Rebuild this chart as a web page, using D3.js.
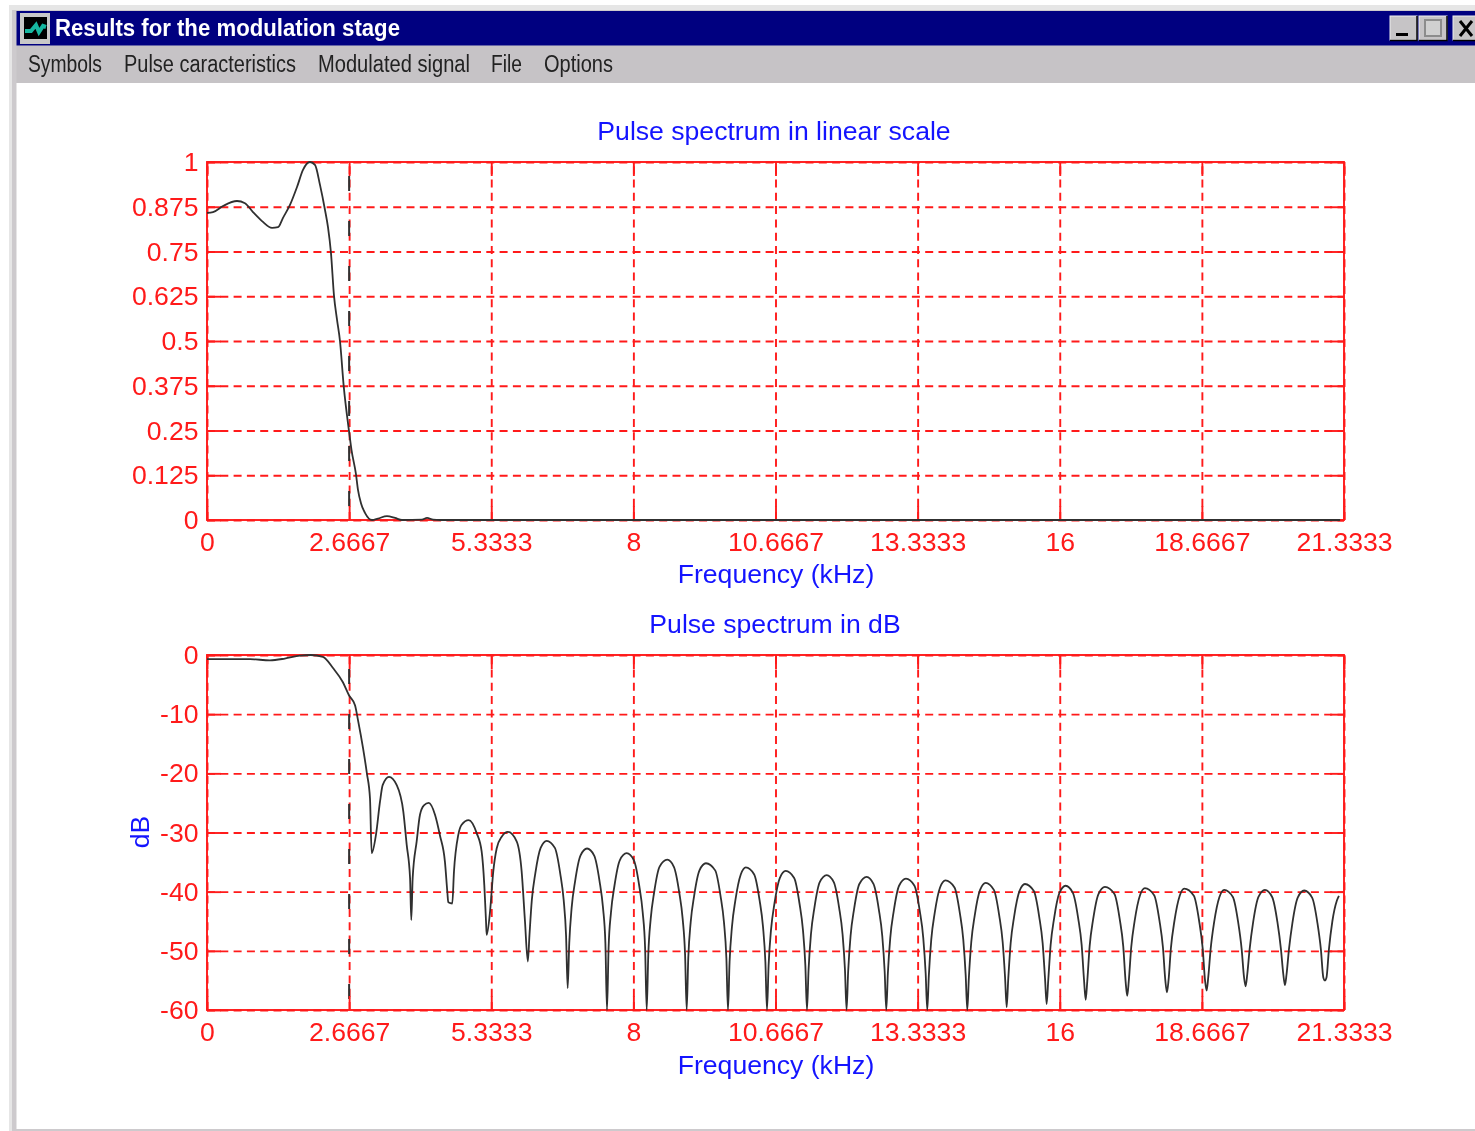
<!DOCTYPE html>
<html><head><meta charset="utf-8">
<script src="https://cdn.jsdelivr.net/npm/d3@7"></script>
<style>
html,body{margin:0;padding:0;background:#fff;overflow:hidden}
svg{display:block;filter:blur(0.5px)}
text{font-family:"Liberation Sans",Arial,sans-serif}
</style></head><body><svg id="c" width="1475" height="1131"></svg>
<script>
const windowTitle = "Results for the modulation stage";
const menuItems = ["Symbols","Pulse caracteristics","Modulated signal","File","Options"];
const topTitle = "Pulse spectrum in linear scale";
const bottomTitle = "Pulse spectrum in dB";
const xLabel = "Frequency (kHz)";
const yLabelBottom = "dB";
const xTicks = [0,2.6667,5.3333,8,10.6667,13.3333,16,18.6667,21.3333];
const xTickLabels = ["0","2.6667","5.3333","8","10.6667","13.3333","16","18.6667","21.3333"];
const linTicks = [0,0.125,0.25,0.375,0.5,0.625,0.75,0.875,1];
const dbTicks = [-60,-50,-40,-30,-20,-10,0];
const cutoffFreq = [2.6667];

const linFreq = [0,.113,.30,.563,.713,.863,1.032,1.22,1.332,1.426,1.557,1.689,1.801,1.932,2.026,2.12,2.214,2.27,2.326,2.383,2.44,2.495,2.565,2.664,2.711,2.795,2.833,2.889,2.964,3.096,3.208,3.377,3.527,3.658,4.034,4.128,4.24,4.371,21.26];
const linValue = [.858,.860,.877,.891,.885,.860,.835,.816,.818,.844,.880,.930,.978,1,.992,.936,.866,.818,.746,.626,.559,.5,.374,.249,.196,.128,.084,.047,.02,0,.004,.011,.006,0,.001,.006,.001,0,0];

const dbFreq = [
0,.807,1.182,1.46,1.745,1.95,2.176,2.364,2.55,2.664,2.777,2.833,2.927,3.0,3.058,3.09,
3.17,3.246,3.296,3.415,3.56,3.684,3.746,3.81,3.833,
3.859,3.934,3.996,4.07,4.16,4.278,4.371,4.465,4.509,4.527,4.602,
4.634,4.715,4.778,4.91,5.06,5.153,5.203,5.235,5.248,
5.31,5.371,5.435,5.529,5.647,5.81,5.904,5.966,6.02,
6.05,6.095,6.16,6.26,6.373,6.527,6.627,6.692,6.737,6.767,
6.797,6.842,6.907,7.007,7.13,7.265,7.365,7.43,7.475,7.505,
7.535,7.58,7.645,7.745,7.874,8.01,8.11,8.175,8.22,8.25,
8.28,8.325,8.39,8.49,8.636,8.76,8.86,8.925,8.97,9.0,
9.03,9.075,9.14,9.24,9.362,9.535,9.635,9.7,9.745,9.775,
9.805,9.85,9.915,10.015,10.11,10.267,10.367,10.432,10.477,10.507,
10.537,10.582,10.647,10.747,10.857,11.017,11.117,11.182,11.227,11.257,
11.287,11.332,11.397,11.497,11.627,11.76,11.86,11.925,11.97,12.0,
12.03,12.075,12.14,12.24,12.377,12.505,12.605,12.67,12.715,12.745,
12.775,12.82,12.885,12.985,13.114,13.274,13.374,13.439,13.484,13.514,
13.544,13.589,13.654,13.754,13.855,14.025,14.125,14.19,14.235,14.265,
14.295,14.34,14.405,14.505,14.61,14.764,14.864,14.929,14.974,15.004,
15.034,15.079,15.144,15.244,15.347,15.514,15.614,15.679,15.724,15.754,
15.784,15.829,15.894,15.994,16.11,16.246,16.346,16.411,16.456,16.486,
16.516,16.561,16.626,16.726,16.848,17.026,17.126,17.191,17.236,17.266,
17.296,17.341,17.406,17.506,17.598,17.771,17.871,17.936,17.981,18.011,
18.041,18.086,18.151,18.251,18.336,18.516,18.616,18.681,18.726,18.756,
18.786,18.831,18.896,18.996,19.086,19.248,19.348,19.413,19.458,19.488,
19.518,19.563,19.628,19.728,19.85,19.985,20.085,20.15,20.195,20.225,
20.255,20.3,20.365,20.465,20.587,20.735,20.835,20.9,20.945,20.975,
21.005,21.05,21.115,21.2,21.238];
const dbValue = [
-.7,-.7,-.9,-.6,-.1,0,-.3,-2.2,-4.6,-6.8,-8.5,-11,-15.7,-20,-24.2,-33.5,
-30.4,-24.8,-22,-20.6,-22,-26.5,-32,-37.7,-44.8,
-37.7,-31.5,-27,-25.4,-25,-27,-30.5,-35,-40,-41.8,-42,
-36.6,-30.4,-28.7,-27.9,-30.1,-33.2,-38.9,-45,-47.3,
-43.4,-36.6,-32.7,-30.7,-29.9,-31.5,-36.6,-45,-51.8,
-47.4,-41.4,-36.9,-32.6,-31.4,-32.6,-36.9,-41.4,-47.4,-56.3,
-48.7,-42.7,-38.2,-33.9,-32.7,-33.9,-38.2,-42.7,-48.7,-60,
-49.5,-43.5,-39,-34.7,-33.5,-34.7,-39,-43.5,-49.5,-60,
-50.6,-44.6,-40.1,-35.8,-34.6,-35.8,-40.1,-44.6,-50.6,-60,
-51.2,-45.2,-40.7,-36.4,-35.2,-36.4,-40.7,-45.2,-51.2,-60,
-51.9,-45.9,-41.4,-37.1,-35.9,-37.1,-41.4,-45.9,-51.9,-60,
-52.5,-46.5,-42,-37.7,-36.5,-37.7,-42,-46.5,-52.5,-60,
-53.2,-47.2,-42.7,-38.4,-37.2,-38.4,-42.7,-47.2,-53.2,-60,
-53.5,-47.5,-43,-38.7,-37.5,-38.7,-43,-47.5,-53.5,-60,
-53.8,-47.8,-43.3,-39,-37.8,-39,-43.3,-47.8,-53.8,-60,
-54.1,-48.1,-43.6,-39.3,-38.1,-39.3,-43.6,-48.1,-54.1,-60,
-54.5,-48.5,-44,-39.7,-38.5,-39.7,-44,-48.5,-54.5,-59.5,
-54.7,-48.7,-44.2,-39.9,-38.7,-39.9,-44.2,-48.7,-54.7,-59,
-55,-49,-44.5,-40.2,-39,-40.2,-44.5,-49,-55,-58.3,
-55.2,-49.2,-44.7,-40.4,-39.2,-40.4,-44.7,-49.2,-55.2,-57.6,
-55,-49.4,-44.9,-40.6,-39.4,-40.6,-44.9,-49.4,-55,-57,
-55,-49.5,-45,-40.7,-39.5,-40.7,-45,-49.5,-55,-56.7,
-54.5,-49.7,-45.2,-40.9,-39.7,-40.9,-45.2,-49.7,-54.5,-56,
-54,-49.7,-45.2,-40.9,-39.7,-40.9,-45.2,-49.7,-54,-55.8,
-54,-49.8,-45.3,-41,-39.8,-41,-45.3,-49.8,-54.5,-55,
-54.5,-49.8,-45,-41.5,-40.7];

const RED="#ff1a1a", BLUE="#1414ff", NAVY="#000080", MENU="#c6c3c6", INK="#303030";
const svg=d3.select("#c");

// window chrome
svg.append("rect").attr("x",9).attr("y",5).attr("width",1466).attr("height",1126).attr("fill","#e6e6e6");
svg.append("rect").attr("x",12).attr("y",10).attr("width",1463).attr("height",1121).attr("fill","#cdcacd");
svg.append("rect").attr("x",16.5).attr("y",83).attr("width",1459).attr("height",1046).attr("fill","#fff");
svg.append("rect").attr("x",16.5).attr("y",11).attr("width",1459).attr("height",34.5).attr("fill",NAVY);
svg.append("rect").attr("x",16.5).attr("y",46).attr("width",1459).attr("height",37).attr("fill",MENU);
const icon=svg.append("g");
icon.append("rect").attr("x",20).attr("y",13).attr("width",30).attr("height",31).attr("fill","#c8c8c8");
icon.append("rect").attr("x",24).attr("y",17).attr("width",23).attr("height",22).attr("fill","#000");
icon.append("path").attr("d","M25 31 L31 31 L36 25 L39 32 L43 26 L46 27").attr("fill","none").attr("stroke","#17b7a0").attr("stroke-width",4);
svg.append("text").text(windowTitle).attr("x",55).attr("y",36).attr("fill","#fff").attr("font-size",23).attr("font-weight","bold").attr("textLength",345).attr("lengthAdjust","spacingAndGlyphs");
const menuX=[28,124,318,491,544], menuW=[74,172,152,31,69];
menuItems.forEach((m,i)=>svg.append("text").text(m).attr("x",menuX[i]).attr("y",72).attr("fill","#222").attr("font-size",23).attr("textLength",menuW[i]).attr("lengthAdjust","spacingAndGlyphs"));
[[1390,27],[1419,28],[1453,30]].forEach(([x,w])=>{
 svg.append("rect").attr("x",x).attr("y",16).attr("width",w).attr("height",24).attr("fill","#c6c4c6").attr("stroke","#eee").attr("stroke-width",1);
 svg.append("path").attr("d",`M${x} 40.5 H${x+w} V16`).attr("fill","none").attr("stroke","#000").attr("stroke-width",1.5);
});
svg.append("rect").attr("x",1396).attr("y",33).attr("width",12).attr("height",3).attr("fill","#000");
svg.append("rect").attr("x",1425).attr("y",20).attr("width",16).attr("height",16).attr("fill","#d0d0d0").attr("stroke","#8c8c8c").attr("stroke-width",2);
svg.append("path").attr("d","M1460 21 L1472 36 M1472 21 L1460 36").attr("fill","none").attr("stroke","#000").attr("stroke-width",3);

const x=d3.scaleLinear().domain([0,21.3333]).range([207,1344]);
const xLabelFmt=(d,i)=>xTickLabels[i];
const FS=26.6;
const GRIDW=1.9;

function panel(y,yTicks,yFmt,title,titleX,titleY,labelY,xs,ys){
 const [b,t]=y.range();
 const g=svg.append("g");
 // dashed grid built from the axes
 const gx=g.append("g").attr("transform",`translate(0,${b})`).call(d3.axisBottom(x).tickValues(xTicks).tickSize(-(b-t)).tickFormat(""));
 const gy=g.append("g").attr("transform","translate(207,0)").call(d3.axisLeft(y).tickValues(yTicks).tickSize(-(1344-207)).tickFormat(""));
 [gx,gy].forEach(a=>{a.select(".domain").remove();a.selectAll("line").attr("stroke",RED).attr("stroke-width",GRIDW).attr("stroke-dasharray","8 5.3");});
 // data and cutoff
 g.selectAll(null).data(cutoffFreq).join("line").attr("x1",d=>x(d)).attr("x2",d=>x(d)).attr("y1",t).attr("y2",b)
   .attr("stroke",INK).attr("stroke-width",2).attr("stroke-dasharray","15 30").attr("stroke-dashoffset",-14);
 // frame and short ticks
 g.append("rect").attr("x",207).attr("y",t).attr("width",1344-207).attr("height",b-t).attr("fill","none").attr("stroke",RED).attr("stroke-width",GRIDW);
 const tickB=g.append("g").attr("transform",`translate(0,${b})`).call(d3.axisBottom(x).tickValues(xTicks).tickSize(-14).tickFormat(xLabelFmt).tickPadding(12.5));
 const tickT=g.append("g").attr("transform",`translate(0,${t})`).call(d3.axisTop(x).tickValues(xTicks).tickSize(-14).tickFormat(""));
 const tickL=g.append("g").attr("transform","translate(207,0)").call(d3.axisLeft(y).tickValues(yTicks).tickSize(-14).tickFormat(yFmt).tickPadding(8.5));
 const tickR=g.append("g").attr("transform","translate(1344,0)").call(d3.axisRight(y).tickValues(yTicks).tickSize(-14).tickFormat(""));
 [tickB,tickT,tickL,tickR].forEach(a=>{
  a.select(".domain").remove();
  a.selectAll("line").attr("stroke",RED).attr("stroke-width",GRIDW);
  a.selectAll("text").attr("fill",RED).attr("font-size",FS).attr("font-family",'"Liberation Sans",Arial,sans-serif');
 });
 const line=d3.line().x((d,i)=>x(xs[i])).y((d,i)=>y(ys[i])).curve(d3.curveMonotoneX);
 g.append("path").attr("d",line(xs)).attr("fill","none").attr("stroke",INK).attr("stroke-width",1.8);
 g.append("text").text(title).attr("x",titleX).attr("y",titleY).attr("text-anchor","middle").attr("fill",BLUE).attr("font-size",FS);
 g.append("text").text(xLabel).attr("x",776).attr("y",labelY).attr("text-anchor","middle").attr("fill",BLUE).attr("font-size",FS);
}

const yTop=d3.scaleLinear().domain([0,1]).range([520,162]);
const yBot=d3.scaleLinear().domain([-60,0]).range([1010,655]);
panel(yTop,linTicks,d=>String(d),topTitle,774,140,583,linFreq,linValue);
panel(yBot,dbTicks,d=>String(d),bottomTitle,775,633,1074,dbFreq,dbValue);
svg.append("text").text(yLabelBottom).attr("transform","translate(149,832) rotate(-90)").attr("text-anchor","middle").attr("fill",BLUE).attr("font-size",FS);
</script></body></html>
